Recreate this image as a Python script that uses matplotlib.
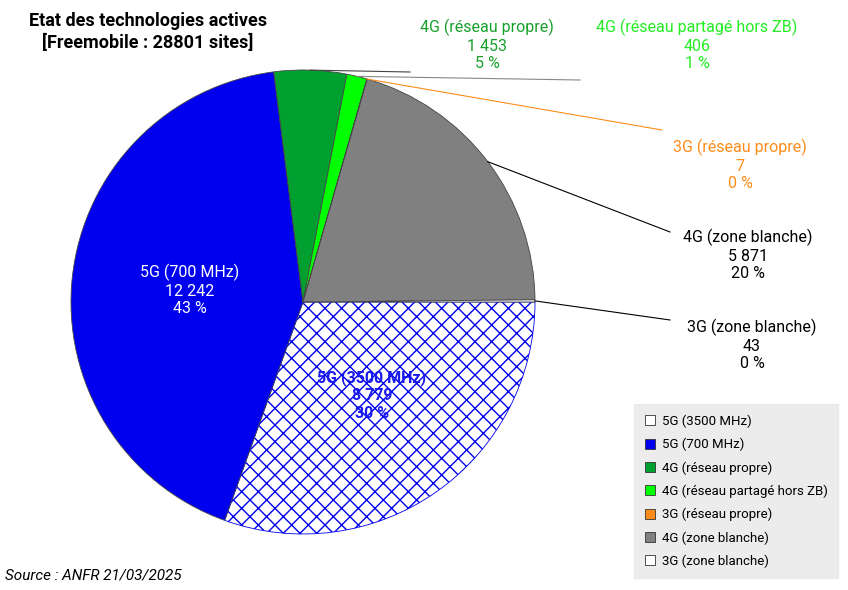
import numpy as np
import matplotlib.pyplot as plt
from matplotlib.patches import Patch

plt.rcParams['font.family'] = ['Roboto', 'DejaVu Sans']

labels = ["5G (3500 MHz)", "5G (700 MHz)", "4G (réseau propre)", "4G (réseau partagé hors ZB)",
          "3G (réseau propre)", "4G (zone blanche)", "3G (zone blanche)"]
values = [8779, 12242, 1453, 406, 7, 5871, 43]
colors = ["white", "#0000ee", "#00a030", "#00ff00", "#ff8c1a", "#808080", "white"]
text_colors = ["#1a1aee", "white", "#19a02c", "#22ee22", "#ff8c1a", "black", "black"]
total = sum(values)

W, H = 848, 590
fig = plt.figure(figsize=(W / 100, H / 100), dpi=100)
ax = fig.add_axes([0, 0, 1, 1])
ax.set_xlim(0, W)
ax.set_ylim(0, H)
ax.set_aspect('equal')
ax.axis('off')

cx, cy, r = 303, H - 302, 232
wedges, _ = ax.pie(values, colors=colors, startangle=0, counterclock=False,
                   center=(cx, cy), radius=r, frame=True,
                   wedgeprops=dict(edgecolor='#444444', linewidth=0.6))
ax.set_xlim(0, W)
ax.set_ylim(0, H)
ax.axis('off')
wedges[0].set_hatch('xx')
wedges[0].set_edgecolor('#0000ee')
plt.rcParams['hatch.linewidth'] = 0.6


def fmt(v):
    return f"{v:,}".replace(",", "\u202f") if v >= 1000 else str(v)


def txt(i):
    pct = round(values[i] / total * 100)
    return f"{labels[i]}\n{fmt(values[i]).replace(chr(0x202f), ' ')}\n{pct} %"


# inside labels
ax.text(372, H - 395, txt(0), ha='center', va='center', color=text_colors[0], fontsize=11.5,
        fontweight='bold', linespacing=1.2)
ax.text(190, H - 290, txt(1), ha='center', va='center', color=text_colors[1], fontsize=11.5,
        linespacing=1.2)

# outside labels: (label pos, line end, line color)
outside = {
    2: ((487, 45), (410, 72), '#444444'),
    3: ((697, 45), (580, 80), '#888888'),
    4: ((740, 165), (662, 130), '#ff8c1a'),
    5: ((748, 255), (670, 232), 'black'),
    6: ((752, 345), (670, 320), 'black'),
}
for i, ((lx, ly), (ex, ey), lc) in outside.items():
    w = wedges[i]
    mid = np.deg2rad((w.theta1 + w.theta2) / 2)
    sx, sy = cx + r * np.cos(mid), cy + r * np.sin(mid)
    ax.plot([sx, ex], [sy, H - ey], color=lc, linewidth=0.8)
    ax.text(lx, H - ly, txt(i), ha='center', va='center', color=text_colors[i],
            fontsize=11.5, linespacing=1.2)

ax.text(148, H - 32, "Etat des technologies actives\n[Freemobile : 28801 sites]", ha='center',
        va='center', fontsize=13, fontweight='bold', linespacing=1.25)
ax.text(5, H - 575, "Source : ANFR 21/03/2025", ha='left', va='center', fontsize=11, style='italic')

handles = [Patch(facecolor=c, edgecolor='#333333', linewidth=0.6) for c in colors]
leg = fig.legend(handles, labels, loc='lower right', bbox_to_anchor=(845 / W, 5 / H),
                 fontsize=9.5, frameon=True, fancybox=False, handlelength=0.8, handleheight=0.8,
                 labelspacing=0.75, borderpad=0.8, handletextpad=0.5)
leg.get_frame().set_facecolor('#e8e8e8')
leg.get_frame().set_edgecolor('#e8e8e8')

fig.savefig("out.png", dpi=100)
